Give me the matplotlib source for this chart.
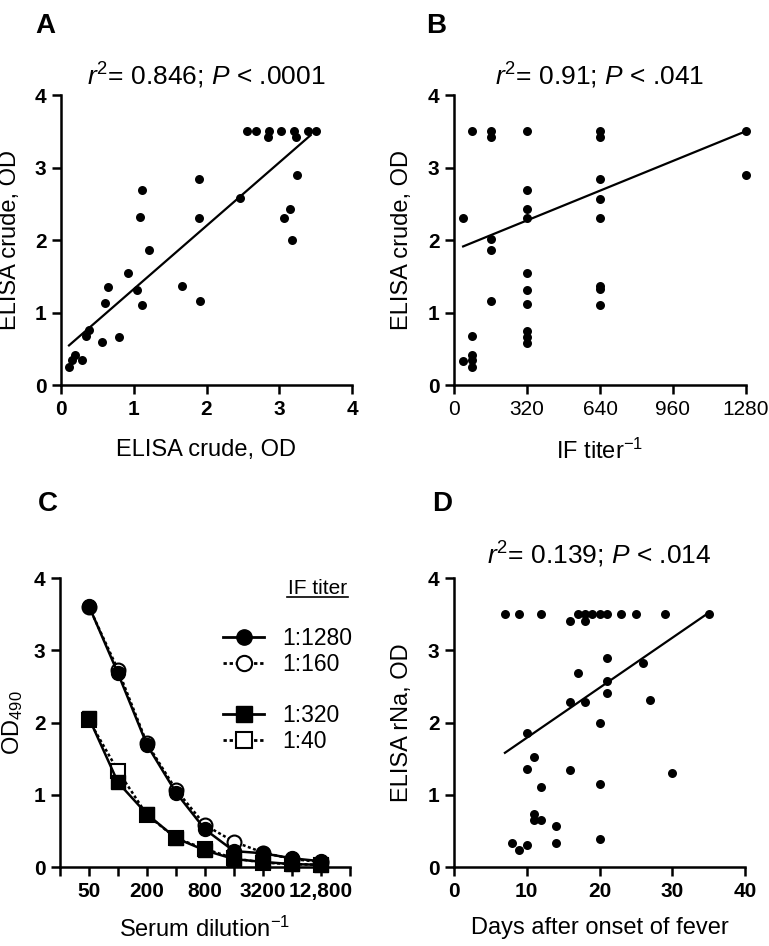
import matplotlib
matplotlib.use('Agg')
import matplotlib.pyplot as plt
import numpy as np
from matplotlib.lines import Line2D

plt.rcParams['font.family'] = ['Liberation Sans', 'DejaVu Sans']
plt.rcParams['mathtext.fontset'] = 'custom'
plt.rcParams['mathtext.rm'] = 'Liberation Sans'
plt.rcParams['mathtext.it'] = 'Liberation Sans:italic'
plt.rcParams['mathtext.bf'] = 'Liberation Sans:bold'

# ---------------- Panel A data ----------------
a_x = [2.55, 2.68, 2.86, 2.84, 3.02, 3.20, 3.23, 3.39, 3.51, 3.24, 3.15, 3.06, 3.18,
       2.46, 1.90, 1.90, 1.91, 1.67, 1.11, 1.09, 1.21, 0.92, 1.04, 1.11, 0.65, 0.61,
       0.80, 0.57, 0.38, 0.34, 0.19, 0.29, 0.15, 0.11]
a_y = [3.50, 3.50, 3.50, 3.42, 3.50, 3.50, 3.42, 3.50, 3.50, 2.90, 2.43, 2.30, 2.00,
       2.58, 2.84, 2.31, 1.16, 1.37, 2.69, 2.32, 1.86, 1.54, 1.31, 1.10, 1.35, 1.13,
       0.66, 0.59, 0.76, 0.67, 0.41, 0.34, 0.34, 0.25]
a_fit = [0.873, 0.45]   # slope, intercept

# ---------------- Panel B data ----------------
b_x = [40, 40,
       80, 80, 80, 80, 80,
       160, 160, 160, 160, 160,
       320, 320, 320, 320, 320, 320, 320, 320, 320, 320,
       640, 640, 640, 640, 640, 640, 640, 640,
       1280, 1280]
b_y = [2.31, 0.33,
       3.50, 0.67, 0.41, 0.34, 0.25,
       3.50, 3.42, 2.01, 1.86, 1.16,
       3.50, 2.69, 2.43, 2.30, 1.54, 1.31, 1.12, 0.75, 0.66, 0.58,
       3.50, 3.42, 2.84, 2.57, 2.31, 1.37, 1.33, 1.10,
       3.50, 2.90]
b_fit = [0.001282, 1.86]

# ---------------- Panel C data ----------------
c_dilution = [50, 100, 200, 400, 800, 1600, 3200, 6400, 12800]
c_1280 = [3.61, 2.68, 1.69, 1.03, 0.52, 0.22, 0.19, 0.12, 0.08]
c_160 = [3.60, 2.73, 1.71, 1.07, 0.58, 0.35, 0.20, 0.11, 0.07]
c_320 = [2.06, 1.17, 0.73, 0.40, 0.23, 0.11, 0.07, 0.04, 0.03]
c_40 = [2.03, 1.33, 0.72, 0.40, 0.25, 0.12, 0.06, 0.04, 0.03]
c_ticks = [25, 50, 100, 200, 400, 800, 1600, 3200, 6400, 12800, 25600]
c_ticklabels = ['', '50', '', '200', '', '800', '', '3200', '', '12,800', '']

# ---------------- Panel D data ----------------
d_x = [7, 9, 12, 17, 18, 19, 20, 21, 23, 25, 29, 35,
       16, 18, 21, 26, 17, 21, 21, 16, 18, 27, 20, 10, 11, 10, 16, 30, 12, 20,
       11, 11, 12, 14, 20, 8, 9, 10, 14]
d_y = [3.50, 3.50, 3.50, 3.50, 3.50, 3.50, 3.50, 3.50, 3.50, 3.50, 3.50, 3.50,
       3.40, 3.41, 2.89, 2.82, 2.68, 2.57, 2.41, 2.29, 2.29, 2.31, 1.99, 1.85, 1.52,
       1.36, 1.34, 1.30, 1.11, 1.15,
       0.74, 0.65, 0.65, 0.57, 0.39, 0.33, 0.24, 0.31, 0.33]
d_fit = [0.0692, 1.096]

W, H = 769, 946
fig = plt.figure(figsize=(W / 100, H / 100), dpi=100)


def ax_px(l, t, r, b):
    return fig.add_axes([l / W, 1 - b / H, (r - l) / W, (b - t) / H])


def style(ax, bold_x=True):
    for s in ['top', 'right']:
        ax.spines[s].set_visible(False)
    for s in ['left', 'bottom']:
        ax.spines[s].set_linewidth(1.8)
    ax.tick_params(direction='out', length=6.5, width=1.8, labelsize=15, pad=4)
    for lab in ax.get_yticklabels():
        lab.set_fontweight('bold')
    for lab in ax.get_xticklabels():
        lab.set_fontweight('bold' if bold_x else 'normal')


axA = ax_px(61, 95, 352, 385)
axB = ax_px(454, 95, 746, 385)
axC = ax_px(60, 578, 350, 867)
axD = ax_px(454, 578, 745, 867)

dot = dict(s=42, color='black', clip_on=False, zorder=3, linewidths=0)

# Panel A
axA.scatter(a_x, a_y, **dot)
xa = np.array([min(a_x), 3.43])
axA.plot(xa, a_fit[0] * xa + a_fit[1], color='black', lw=1.6)
axA.set_xlim(0, 4)
axA.set_ylim(0, 4)
axA.set_xticks([0, 1, 2, 3, 4])
axA.set_yticks([0, 1, 2, 3, 4])
style(axA)
axA.set_xlabel('ELISA crude, OD', fontsize=17)
axA.set_ylabel('ELISA crude, OD', fontsize=17)
axA.set_title(r'$r^2$= 0.846; $P$ < .0001', fontsize=19, pad=7)

# Panel B
axB.scatter(b_x, b_y, **dot)
xb = np.array([min(b_x), max(b_x)])
axB.plot(xb, b_fit[0] * xb + b_fit[1], color='black', lw=1.6)
axB.set_xlim(0, 1280)
axB.set_ylim(0, 4)
axB.set_xticks([0, 320, 640, 960, 1280])
axB.set_yticks([0, 1, 2, 3, 4])
style(axB, bold_x=False)
axB.set_xlabel(r'IF titer$^{\mathregular{-1}}$', fontsize=17)
axB.set_ylabel('ELISA crude, OD', fontsize=17)
axB.set_title(r'$r^2$= 0.91; $P$ < .041', fontsize=19, pad=7)

# Panel C
dotted = (0, (1.2, 1.0))
axC.plot(c_dilution, c_160, color='black', lw=1.8, ls=dotted, marker='o', ms=10,
         mfc='white', mec='black', mew=1.5, clip_on=False, zorder=3)
axC.plot(c_dilution, c_40, color='black', lw=1.8, ls=dotted, marker='s', ms=10,
         mfc='white', mec='black', mew=1.5, clip_on=False, zorder=3)
axC.plot(c_dilution, c_1280, color='black', lw=1.8, ls='-', marker='o', ms=10,
         mfc='black', mec='black', clip_on=False, zorder=4)
axC.plot(c_dilution, c_320, color='black', lw=1.8, ls='-', marker='s', ms=10,
         mfc='black', mec='black', clip_on=False, zorder=4)
axC.set_xscale('log', base=2)
axC.set_xlim(25, 25600)
axC.set_ylim(0, 4)
axC.set_xticks(c_ticks)
axC.set_xticklabels(c_ticklabels)
axC.xaxis.set_minor_locator(matplotlib.ticker.NullLocator())
axC.set_yticks([0, 1, 2, 3, 4])
style(axC)
axC.set_xlabel(r'Serum dilution$^{\mathregular{-1}}$', fontsize=17)
axC.set_ylabel(r'OD$_{\mathregular{490}}$', fontsize=17)

handles = [
    Line2D([], [], color='black', lw=2, marker='o', ms=11, mfc='black'),
    Line2D([], [], color='black', lw=2, ls=dotted, marker='o', ms=11, mfc='white', mew=1.5),
    Line2D([], [], color='none'),
    Line2D([], [], color='black', lw=2, marker='s', ms=11, mfc='black'),
    Line2D([], [], color='black', lw=2, ls=dotted, marker='s', ms=11, mfc='white', mew=1.5),
]
labels = ['1:1280', '1:160', '', '1:320', '1:40']
axC.legend(handles, labels, loc='upper left', bbox_to_anchor=((223 - 60) / 290, (867 - 627) / 289),
           frameon=False, fontsize=16.5, handlelength=1.8, handletextpad=0.8,
           labelspacing=0.12, borderpad=0, borderaxespad=0)
axC.text((317.5 - 60) / 290, (867 - 594) / 289, 'IF titer', transform=axC.transAxes,
         ha='center', va='baseline', fontsize=15)
axC.plot([(287 - 60) / 290, (348 - 60) / 290], [(867 - 597) / 289] * 2, color='black', lw=1.2,
         transform=axC.transAxes, clip_on=False)

# Panel D
axD.scatter(d_x, d_y, **dot)
xd = np.array([min(d_x), 34.6])
axD.plot(xd, d_fit[0] * xd + d_fit[1], color='black', lw=1.6)
axD.set_xlim(0, 40)
axD.set_ylim(0, 4)
axD.set_xticks([0, 10, 20, 30, 40])
axD.set_yticks([0, 1, 2, 3, 4])
style(axD)
axD.set_xlabel('Days after onset of fever', fontsize=17)
axD.set_ylabel('ELISA rNa, OD', fontsize=17)
axD.set_title(r'$r^2$= 0.139; $P$ < .014', fontsize=19, pad=10)

for ax, xl in [(axA, -0.137), (axB, -0.14), (axC, -0.12), (axD, -0.14)]:
    ax.yaxis.set_label_coords(xl, 0.5)
for ax, yl in [(axA, -0.185), (axB, -0.185), (axC, -0.172), (axD, -0.172)]:
    ax.xaxis.set_label_coords(0.5, yl)

# panel letters
for txt, x, y in [('A', 35, 13), ('B', 426, 13), ('C', 38, 491), ('D', 432, 491)]:
    fig.text(x / W, 1 - y / H, txt, fontsize=20, fontweight='bold', ha='left', va='top')

fig.savefig('out.png', dpi=100)
